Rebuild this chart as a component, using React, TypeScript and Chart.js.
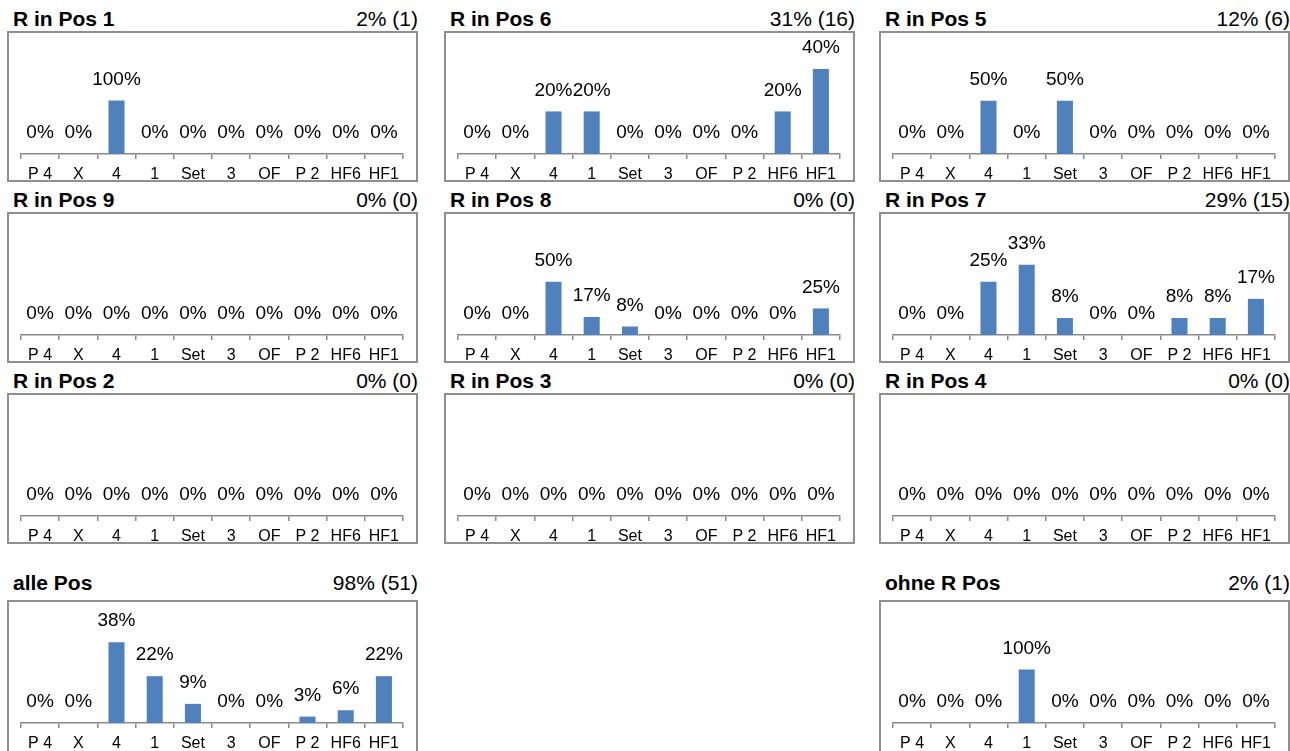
import React, { useEffect, useRef } from "react";
import { Chart, registerables } from "chart.js";

Chart.register(...registerables);

const categories = ["P 4", "X", "4", "1", "Set", "3", "OF", "P 2", "HF6", "HF1"];

const pos1 = [0, 0, 100, 0, 0, 0, 0, 0, 0, 0];
const pos6 = [0, 0, 20, 20, 0, 0, 0, 0, 20, 40];
const pos5 = [0, 0, 50, 0, 50, 0, 0, 0, 0, 0];
const pos9 = [0, 0, 0, 0, 0, 0, 0, 0, 0, 0];
const pos8 = [0, 0, 50, 17, 8, 0, 0, 0, 0, 25];
const pos7 = [0, 0, 25, 33, 8, 0, 0, 8, 8, 17];
const pos2 = [0, 0, 0, 0, 0, 0, 0, 0, 0, 0];
const pos3 = [0, 0, 0, 0, 0, 0, 0, 0, 0, 0];
const pos4 = [0, 0, 0, 0, 0, 0, 0, 0, 0, 0];
const allePos = [0, 0, 38, 22, 9, 0, 0, 3, 6, 22];
const ohneRPos = [0, 0, 0, 100, 0, 0, 0, 0, 0, 0];

const titles = [
  "R in Pos 1", "R in Pos 6", "R in Pos 5",
  "R in Pos 9", "R in Pos 8", "R in Pos 7",
  "R in Pos 2", "R in Pos 3", "R in Pos 4",
  "alle Pos", "ohne R Pos",
];
const shares = [
  "2% (1)", "31% (16)", "12% (6)",
  "0% (0)", "0% (0)", "29% (15)",
  "0% (0)", "0% (0)", "0% (0)",
  "98% (51)", "2% (1)",
];
const seriesList = [pos1, pos6, pos5, pos9, pos8, pos7, pos2, pos3, pos4, allePos, ohneRPos];
const axisMax = [187, 47, 94, 100, 94, 47, 100, 100, 100, 47, 187];

// layout (positions of panels)
const boxLeft = [7, 444, 879, 7, 444, 879, 7, 444, 879, 7, 879];
const boxTop = [31, 31, 31, 212, 212, 212, 393, 393, 393, 600, 600];
const boxExtra = [0, 0, 0, 0, 0, 0, 0, 0, 0, 4, 4];
const titleGap = [22, 22, 22, 22, 22, 22, 22, 22, 22, 27, 27];
const BOX_W = 411;
const BOX_H = 151;
const BORDER = 2;
const FONT = "'Liberation Sans', Arial, Helvetica, sans-serif";

const labelPlugin = {
  id: "barValueLabels",
  afterDatasetsDraw(chart: any) {
    const ctx = chart.ctx;
    const meta = chart.getDatasetMeta(0);
    const data = chart.data.datasets[0].data as number[];
    ctx.save();
    ctx.font = `19px ${FONT}`;
    ctx.fillStyle = "#000";
    ctx.textAlign = "center";
    ctx.textBaseline = "middle";
    meta.data.forEach((el: any, i: number) => {
      ctx.fillText(`${data[i]}%`, el.x, el.y - 21);
    });
    ctx.restore();
  },
};

function Panel({ idx }: { idx: number }) {
  const ref = useRef<HTMLCanvasElement>(null);
  useEffect(() => {
    if (!ref.current) return;
    const chart = new Chart(ref.current, {
      type: "bar",
      data: {
        labels: categories,
        datasets: [
          {
            data: seriesList[idx],
            backgroundColor: "#4F81BD",
            barPercentage: 0.42,
            categoryPercentage: 1,
          },
        ],
      },
      options: {
        responsive: false,
        animation: false,
        layout: { padding: { top: 21, left: 12, right: 13, bottom: 0 } },
        plugins: { legend: { display: false }, tooltip: { enabled: false } },
        scales: {
          y: { display: false, min: 0, max: axisMax[idx] },
          x: {
            afterFit: (scale: any) => {
              scale.height = 26;
            },
            border: { display: true, color: "#8a8a8a", width: 1.5 },
            grid: {
              offset: true,
              drawOnChartArea: false,
              drawTicks: true,
              tickLength: 5,
              color: "#8a8a8a",
              lineWidth: 1.5,
            },
            ticks: {
              autoSkip: false,
              maxRotation: 0,
              color: "#000",
              padding: 6,
              font: { family: FONT, size: 16 },
            },
          },
        },
      },
      plugins: [labelPlugin],
    });
    return () => chart.destroy();
  }, [idx]);

  const left = boxLeft[idx];
  const top = boxTop[idx];
  const h = BOX_H + boxExtra[idx];
  return (
    <>
      <div
        style={{
          position: "absolute",
          left: left + 6,
          top: top - titleGap[idx],
          width: BOX_W - 6,
          height: 20,
          lineHeight: "20px",
          fontSize: 21,
          fontFamily: FONT,
          color: "#000",
          whiteSpace: "nowrap",
        }}
      >
        <span style={{ fontWeight: "bold" }}>{titles[idx]}</span>
        <span style={{ position: "absolute", right: 0, top: 0 }}>{shares[idx]}</span>
      </div>
      <div
        style={{
          position: "absolute",
          left,
          top,
          width: BOX_W - 2 * BORDER,
          height: h - 2 * BORDER,
          border: `${BORDER}px solid #8f8f8f`,
          background: "#fff",
        }}
      >
        <canvas
          ref={ref}
          width={BOX_W - 2 * BORDER}
          height={BOX_H - 2 * BORDER}
          style={{ display: "block" }}
        />
      </div>
    </>
  );
}

export default function App() {
  return (
    <div
      style={{
        position: "fixed",
        left: 0,
        top: 0,
        width: 1290,
        height: 751,
        overflow: "hidden",
        background: "#fff",
      }}
    >
      {titles.map((_, i) => (
        <Panel key={i} idx={i} />
      ))}
    </div>
  );
}
